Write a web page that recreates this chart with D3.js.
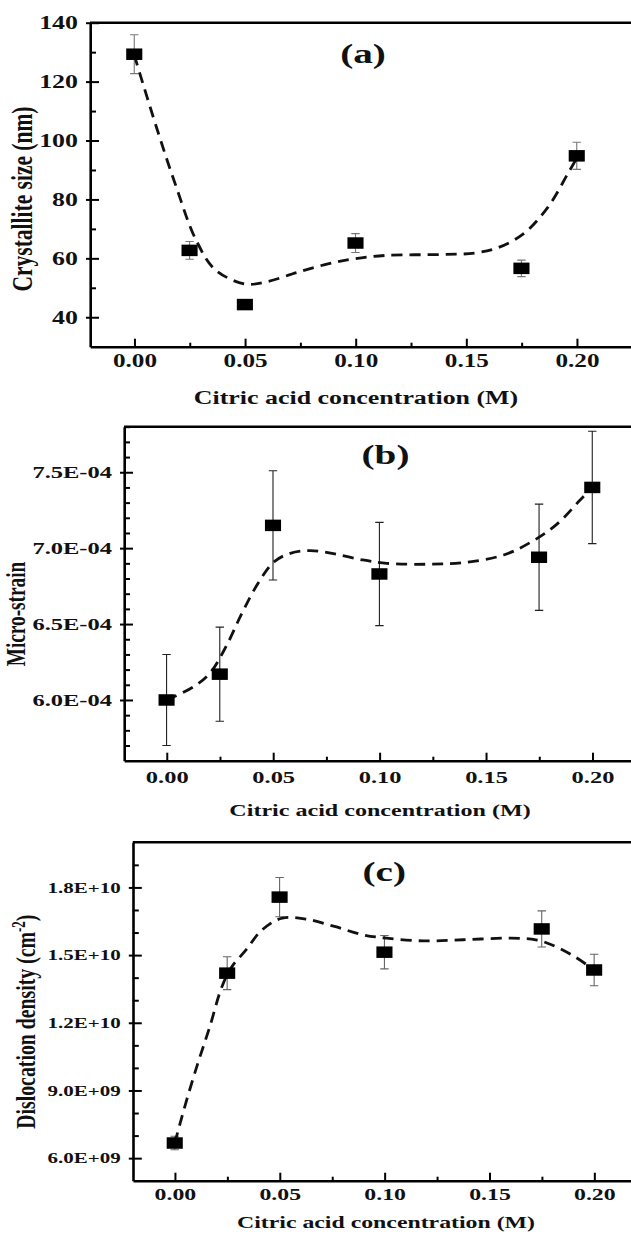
<!DOCTYPE html>
<html>
<head>
<meta charset="utf-8">
<script src="https://cdn.jsdelivr.net/npm/d3@7"></script>
<style>
  body { margin: 0; background: #fff; }
  svg { display: block; }
  text { font-family: "Liberation Serif", "Times New Roman", serif; font-weight: bold; fill: #111; }
</style>
</head>
<body>
<div id="chart"></div>
<script>
// Values
const conc = [0, 0.025, 0.05, 0.1, 0.175, 0.2];
const xTicks = [0, 0.05, 0.1, 0.15, 0.2];
const xMinorTicks = [0.025, 0.075, 0.125, 0.175];
const xLabel = "Citric acid concentration (M)";

// (a) crystallite size
const sizeVals = [129.3, 62.7, 44.3, 65.2, 56.6, 94.8];
const sizeErr = [6.6, 3.0, 1.5, 3.2, 2.8, 4.6];
const sizeTicks = [40, 60, 80, 100, 120, 140];
const sizeFit = [
  [0, 129], [0.01, 104.6], [0.019, 84.2], [0.028, 66.1], [0.037, 55.9],
  [0.05, 51.3], [0.059, 51.9], [0.074, 55.3], [0.088, 58.2], [0.1, 59.9],
  [0.114, 61.0], [0.139, 61.3], [0.154, 61.8], [0.165, 63.8], [0.176, 68.4],
  [0.187, 77.4], [0.196, 88.8], [0.2, 94],
];

// (b) micro-strain
const strainVals = [6.0e-4, 6.17e-4, 7.15e-4, 6.83e-4, 6.94e-4, 7.4e-4];
const strainErr = [0.3e-4, 0.31e-4, 0.36e-4, 0.34e-4, 0.35e-4, 0.37e-4];
const strainTicks = [6.0e-4, 6.5e-4, 7.0e-4, 7.5e-4];
const strainFit = [
  [0, 6.0e-4], [0.0033, 6.02e-4], [0.0128, 6.088e-4], [0.0203, 6.176e-4],
  [0.0279, 6.351e-4], [0.0354, 6.571e-4], [0.043, 6.769e-4], [0.0506, 6.911e-4],
  [0.0581, 6.966e-4], [0.0676, 6.984e-4], [0.079, 6.962e-4], [0.0922, 6.922e-4],
  [0.1035, 6.9e-4], [0.1225, 6.894e-4], [0.1395, 6.905e-4], [0.1584, 6.955e-4],
  [0.1716, 7.043e-4], [0.183, 7.153e-4], [0.1943, 7.317e-4], [0.2, 7.4e-4],
];

// (c) dislocation density
const densVals = [6.67e9, 14.2e9, 17.57e9, 15.13e9, 16.16e9, 14.34e9];
const densErr = [0.3e9, 0.73e9, 0.87e9, 0.74e9, 0.8e9, 0.7e9];
const densTicks = [6e9, 9e9, 1.2e10, 1.5e10, 1.8e10];
const densFit = [
  [0, 6.67e9], [0.0052, 8.42e9], [0.011, 10.2e9], [0.0167, 11.82e9],
  [0.0225, 13.6e9], [0.0273, 14.49e9], [0.034, 15.23e9], [0.0417, 16.12e9],
  [0.0513, 16.64e9], [0.0628, 16.59e9], [0.0762, 16.27e9], [0.0897, 15.9e9],
  [0.1011, 15.75e9], [0.1184, 15.63e9], [0.1376, 15.68e9], [0.1587, 15.75e9],
  [0.1722, 15.68e9], [0.1817, 15.38e9], [0.1914, 14.89e9], [0.2, 14.34e9],
];

// the source figure is stretched sideways, so draw in a narrower box
const stretch = 1.4;
const W = 631 / stretch;
const H = 1234;
const sx = (px) => px / stretch;

function sciFormat(d) {
  const e = Math.floor(Math.log10(d) + 1e-9);
  const m = d / Math.pow(10, e);
  return m.toFixed(1) + "E" + (e < 0 ? "-" : "+") + String(Math.abs(e)).padStart(2, "0");
}

const panels = [
  {
    tag: "(a)", tagX: 363, tagY: 53,
    vals: sizeVals, err: sizeErr, fit: sizeFit,
    yDomain: [30, 140], yTicks: sizeTicks,
    yMinor: [50, 70, 90, 110, 130],
    yFormat: d3.format("d"),
    yLabel: "Crystallite size (nm)", yLabelX: 21, yLabelY: 199, yLabelSize: 21.5,
    left: 90, top: 22.7, bottom: 346.7, per02: 442.5,
    yFont: 18.5, xFont: 18, xPad: 8,
    xLabelX: 356, xLabelY: 404, xLabelSize: 18.5,
    errColor: "#777",
  },
  {
    tag: "(b)", tagX: 385.5, tagY: 454,
    vals: strainVals, err: strainErr, fit: strainFit,
    yDomain: [5.6e-4, 7.8e-4], yTicks: strainTicks,
    yMinor: d3.range(57, 79).filter((v) => v % 5 !== 0).map((v) => v * 1e-5),
    yFormat: sciFormat,
    yLabel: "Micro-strain", yLabelX: 16, yLabelY: 614, yLabelSize: 19.3,
    left: 124, top: 426.7, bottom: 760.7, per02: 425.7,
    yFont: 17.5, xFont: 17.5, xPad: 10,
    xLabelX: 380, xLabelY: 816, xLabelSize: 17.2,
    errColor: "#222",
  },
  {
    tag: "(c)", tagX: 384.3, tagY: 871,
    vals: densVals, err: densErr, fit: densFit,
    yDomain: [5e9, 20e9], yTicks: densTicks,
    yMinor: d3.range(6, 20).filter((v) => v % 3 !== 0).map((v) => v * 1e9),
    yFormat: sciFormat,
    yLabel: "Dislocation density (cm", yLabelX: 25, yLabelY: 1021.7, yLabelSize: 19.8,
    left: 132.8, top: 842.3, bottom: 1180.7, per02: 419.4,
    yFont: 15, xFont: 17, xPad: 7,
    xLabelX: 386, xLabelY: 1228, xLabelSize: 17,
    errColor: "#666",
  },
];

const svg = d3
  .select("#chart")
  .append("svg")
  .attr("width", 631)
  .attr("height", H)
  .attr("viewBox", `0 0 ${W} ${H}`)
  .attr("preserveAspectRatio", "none");

panels.forEach(drawPanel);

function drawPanel(p) {
  // x runs from -0.02 and past the right edge of the picture
  const x = d3
    .scaleLinear()
    .domain([-0.02, 0.23])
    .range([sx(p.left), sx(p.left + (p.per02 * 0.25) / 0.2)]);
  const y = d3.scaleLinear().domain(p.yDomain).range([p.bottom, p.top]);

  const g = svg.append("g");

  // top frame
  g.append("line")
    .attr("x1", sx(p.left))
    .attr("x2", W)
    .attr("y1", p.top)
    .attr("y2", p.top)
    .attr("stroke", "#000")
    .attr("stroke-width", 2.6)
    .attr("vector-effect", "non-scaling-stroke");

  // minor ticks
  g.append("g")
    .attr("transform", `translate(0,${p.bottom})`)
    .call(d3.axisBottom(x).tickValues(xMinorTicks).tickSize(-4).tickFormat(""))
    .call((a) => a.select(".domain").remove());
  g.append("g")
    .attr("transform", `translate(${sx(p.left)},0)`)
    .call(d3.axisLeft(y).tickValues(p.yMinor).tickSize(-sx(6)).tickFormat(""))
    .call((a) => a.select(".domain").remove());

  // bottom axis
  const xAxis = g
    .append("g")
    .attr("transform", `translate(0,${p.bottom})`)
    .call(
      d3
        .axisBottom(x)
        .tickValues(xTicks)
        .tickSizeInner(-8)
        .tickSizeOuter(0)
        .tickPadding(p.xPad)
        .tickFormat(d3.format(".2f")),
    );
  xAxis.selectAll("text").style("font-size", p.xFont + "px");

  // left axis, major ticks cross the line
  const yAxis = g
    .append("g")
    .attr("transform", `translate(${sx(p.left)},0)`)
    .call(
      d3
        .axisLeft(y)
        .tickValues(p.yTicks)
        .tickSizeInner(-sx(9))
        .tickSizeOuter(0)
        .tickPadding(sx(12))
        .tickFormat(p.yFormat),
    );
  yAxis.selectAll(".tick line").attr("x1", -sx(4));
  yAxis.selectAll("text").style("font-size", p.yFont + "px");

  g.selectAll(".domain").attr("stroke-width", 2.6).attr("vector-effect", "non-scaling-stroke");
  g.selectAll(".tick line").attr("stroke-width", 2).attr("vector-effect", "non-scaling-stroke");

  // error bars
  const cap = 3;
  conc.forEach((c, i) => {
    const lo = y(p.vals[i] - p.err[i]);
    const hi = y(p.vals[i] + p.err[i]);
    const cx = x(c);
    g.append("path")
      .attr("d", `M${cx},${lo}V${hi}M${cx - cap},${lo}H${cx + cap}M${cx - cap},${hi}H${cx + cap}`)
      .attr("fill", "none")
      .attr("stroke", p.errColor)
      .attr("stroke-width", 1.1)
      .attr("vector-effect", "non-scaling-stroke");
  });

  // dashed fit
  const line = d3
    .line()
    .x((d) => x(d[0]))
    .y((d) => y(d[1]))
    .curve(d3.curveCatmullRom);
  g.append("path")
    .datum(p.fit)
    .attr("d", line)
    .attr("fill", "none")
    .attr("stroke", "#111")
    .attr("stroke-width", 2.8)
    .attr("stroke-dasharray", "11,7")
    .attr("vector-effect", "non-scaling-stroke");

  // square markers
  const m = 11.5;
  g.selectAll("rect.pt")
    .data(conc)
    .join("rect")
    .attr("class", "pt")
    .attr("x", (d) => x(d) - m / 2)
    .attr("y", (d, i) => y(p.vals[i]) - m / 2)
    .attr("width", m)
    .attr("height", m)
    .attr("fill", "#000");

  // panel tag
  g.append("text")
    .attr("x", sx(p.tagX))
    .attr("y", p.tagY)
    .attr("dy", "0.35em")
    .attr("text-anchor", "middle")
    .style("font-size", "28px")
    .text(p.tag);

  // axis titles
  g.append("text")
    .attr("x", sx(p.xLabelX))
    .attr("y", p.xLabelY)
    .attr("text-anchor", "middle")
    .style("font-size", p.xLabelSize + "px")
    .text(xLabel);

  const yt = g
    .append("text")
    .attr("transform", `translate(${sx(p.yLabelX)},${p.yLabelY}) rotate(-90)`)
    .attr("dy", "0.35em")
    .attr("text-anchor", "middle")
    .style("font-size", p.yLabelSize + "px");
  yt.append("tspan").text(p.yLabel);
  if (p.tag === "(c)") {
    yt.append("tspan").attr("dy", "-0.55em").style("font-size", "0.65em").text("-2");
    yt.append("tspan").attr("dy", "0.36em").text(")");
  }
}
</script>
</body>
</html>
